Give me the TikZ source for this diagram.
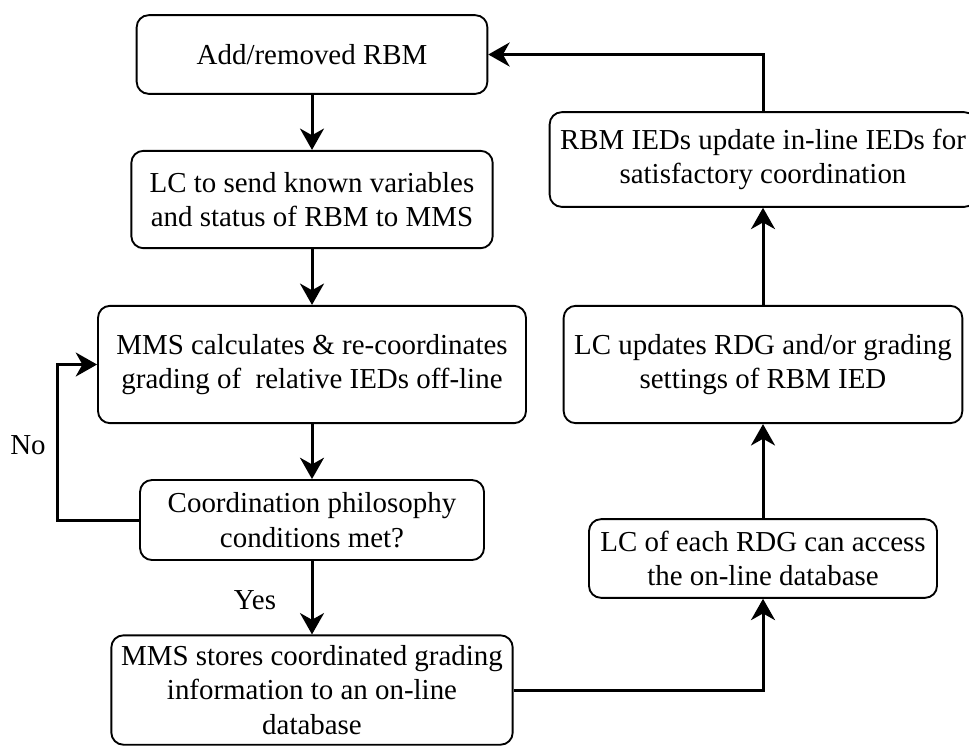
\documentclass[tikz,border=0pt]{standalone}
\usepackage{fontspec}
\setmainfont{Liberation Serif}
\usepackage{tikz}
\usetikzlibrary{arrows.meta}

\begin{document}
\begin{tikzpicture}[x=0.75pt,y=-0.75pt,
    box/.style={draw,line width=1.4pt,rounded corners=9pt,align=center,inner sep=0pt,
      font=\fontsize{21.7}{26}\selectfont},
    lbl/.style={font=\fontsize{21.7}{26}\selectfont},
    arr/.style={line width=2.25pt,-{Stealth[length=16pt,width=18pt,inset=5pt]}}]
    \useasboundingbox (0,0) rectangle (969,747);
    \node[box,minimum width=263pt,minimum height=59pt] (add) at (312,54.5) {Add/removed RBM};
    \node[box,minimum width=271pt,minimum height=73pt] (send) at (312,199.5)
        {LC to send known variables\\and status of RBM to MMS};
    \node[box,minimum width=321pt,minimum height=88pt] (calc) at (312,364.5)
        {MMS calculates \& re-coordinates\\grading of~ relative IEDs off-line};
    \node[box,minimum width=258pt,minimum height=60pt] (cond) at (312,520)
        {Coordination philosophy\\conditions met?};
    \node[box,minimum width=301pt,minimum height=82pt] (store) at (312,690)
        {MMS stores coordinated grading\\information to an on-line\\database};
    \node[box,minimum width=261pt,minimum height=59pt] (access) at (763,558.5)
        {LC of each RDG can access\\the on-line database};
    \node[box,minimum width=299pt,minimum height=88pt] (upd) at (763,364.5)
        {LC updates RDG and/or grading\\settings of RBM IED};
    \node[box,minimum width=320pt,minimum height=71pt] (ieds) at (763,159.5)
        {RBM IEDs update in-line IEDs for\\satisfactory coordination};
    \node[lbl] (no) at (28,445) {No};
    \node[lbl] (yes) at (255,600) {Yes};
    \draw[arr] (add) -- (send);
    \draw[arr] (send) -- (calc);
    \draw[arr] (calc) -- (cond);
    \draw[arr] (cond) -- (store);
    \draw[arr] (cond.west) -- ++(-82,0) |- (calc.west);
    \draw[arr] (store.east) -| (access.south);
    \draw[arr] (access) -- (upd);
    \draw[arr] (upd) -- (ieds);
    \draw[arr] (ieds.north) |- (add.east);
\end{tikzpicture}
\end{document}
